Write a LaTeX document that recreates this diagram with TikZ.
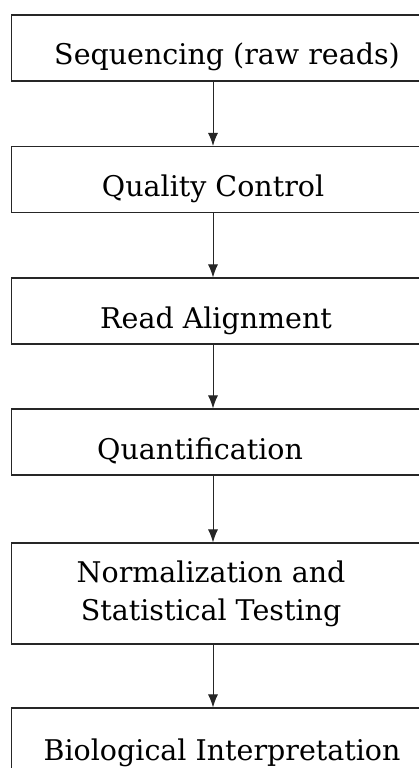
\documentclass[tikz,border=0pt]{standalone}
\usepackage{fontspec}
\setmainfont{DejaVu Serif}
\usetikzlibrary{arrows.meta,positioning,calc}
\tikzset{
  stagebox/.style={draw=black!85,rectangle,line width=1.1pt,minimum width=419pt,minimum height=66pt,anchor=west,inner sep=0pt},
  tallbox/.style={stagebox,minimum height=101pt},
  lbl/.style={font=\fontsize{28.5}{38}\selectfont,align=center,inner sep=0pt,anchor=base},
  arr/.style={-{Latex[length=13pt,width=10pt]},draw=black!85,line width=1pt}
}
\begin{document}
\begin{tikzpicture}[x=1pt,y=1pt]
  \useasboundingbox (0,0) rectangle (419,-768);
  \coordinate (axis) at (213,0);

  % Stage boxes (left edge fixed, right edge runs off the page)
  \node[stagebox] (seq) at (11,-48) {};
  \node[stagebox] (qc) at (11,-179.5) {};
  \node[stagebox] (aln) at (11,-311) {};
  \node[stagebox] (quant) at (11,-442) {};
  \node[tallbox] (norm) at (11,-593.5) {};
  \node[stagebox] (bio) at (11,-741) {};

  % Stage labels (base anchor = last line)
  \node[lbl] (seqlbl) at ([xshift=6pt,yshift=-17pt]seq.center) {Sequencing (raw reads)};
  \node[lbl] (qclbl) at ([xshift=-8pt,yshift=-17pt]qc.center) {Quality Control};
  \node[lbl] (alnlbl) at ([xshift=-5pt,yshift=-17pt]aln.center) {Read Alignment};
  \node[lbl] (quantlbl) at ([xshift=-21pt,yshift=-17pt]quant.center) {Quantification};
  \node[lbl] (normlbl) at ([xshift=-10pt,yshift=-26.5pt]norm.center) {Normalization and\\Statistical Testing};
  \node[lbl] (biolbl) at ([xshift=1pt,yshift=-19pt]bio.center) {Biological Interpretation};

  % Flow arrows
  \foreach \s/\t in {seq/qc,qc/aln,aln/quant,quant/norm,norm/bio}
    \draw[arr] (\s.south -| axis) -- (\t.north -| axis);
\end{tikzpicture}
\end{document}
